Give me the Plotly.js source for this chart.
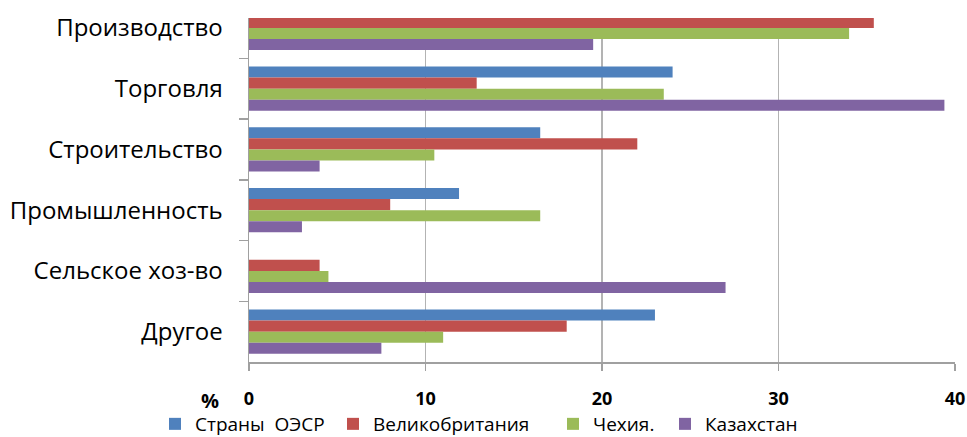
<!DOCTYPE html>
<html>
<head>
<meta charset="utf-8">
<script src="https://cdn.plot.ly/plotly-3.0.1.min.js"></script>
<style>html,body{margin:0;padding:0;background:#fff;}#chart{width:967px;height:437px;}</style>
</head>
<body>
<div id="chart"></div>
<script>
const categories = ["Производство", "Торговля", "Строительство", "Промышленность", "Сельское хоз-во", "Другое"];
const seriesNames = ["Страны  ОЭСР", "Великобритания", "Чехия.", "Казахстан"];
const oecd = [null, 24, 16.5, 11.9, null, 23];
const uk = [35.4, 12.9, 22, 8, 4, 18];
const czech = [34, 23.5, 10.5, 16.5, 4.5, 11];
const kazakhstan = [19.5, 39.4, 4, 3, 27, 7.5];
const xTicks = [0, 10, 20, 30, 40];

const colors = ["#4F81BD", "#C0504D", "#9BBB59", "#8064A2"];
const seriesValues = [oecd, uk, czech, kazakhstan];
const legendIds = ["legend", "legend2", "legend3", "legend4"];
const legendTextStart = [195, 373, 593, 705];

const traces = seriesValues.map((vals, i) => ({
  type: "bar",
  orientation: "h",
  name: seriesNames[i],
  y: categories,
  x: vals,
  marker: {color: colors[i]},
  legend: legendIds[i],
  hoverinfo: "x+name"
}));

const plotL = 249, plotW = 706, plotB = 362, plotH = 344;

const layout = {
  width: 967,
  height: 437,
  margin: {l: 249, r: 12, t: 18, b: 75, autoexpand: false},
  paper_bgcolor: "#ffffff",
  plot_bgcolor: "#ffffff",
  barmode: "group",
  bargap: 0.27,
  bargroupgap: 0,
  font: {family: "Open Sans, sans-serif", color: "#000"},
  xaxis: {
    range: [0, 40],
    tickvals: xTicks,
    ticktext: xTicks.map(String),
    tickfont: {size: 18, family: "Open Sans, sans-serif", weight: "bold", color: "#000"},
    showgrid: true,
    gridcolor: "#b3b3b3",
    gridwidth: 1.5,
    zeroline: false,
    showline: true,
    linecolor: "#a0a0a0",
    linewidth: 1.5,
    ticks: "outside",
    ticklen: 7,
    tickcolor: "#a0a0a0",
    tickwidth: 1.5,
    ticklabelstandoff: 13,
    automargin: false,
    fixedrange: true
  },
  yaxis: {
    type: "category",
    categoryorder: "array",
    categoryarray: categories,
    range: [5.5, -0.163],
    tickfont: {size: 24, family: "Open Sans, sans-serif", color: "#000"},
    showgrid: false,
    zeroline: false,
    showline: true,
    linecolor: "#a0a0a0",
    linewidth: 1.5,
    ticks: "outside",
    tickson: "boundaries",
    ticklen: 9,
    tickcolor: "#a0a0a0",
    tickwidth: 1.5,
    ticklabelstandoff: 20,
    automargin: false,
    fixedrange: true
  },
  showlegend: true,
  annotations: [{
    text: "%",
    xref: "paper", yref: "paper",
    x: (210 - plotL) / plotW,
    y: -(400 - plotB) / plotH,
    xanchor: "center", yanchor: "middle",
    showarrow: false,
    font: {size: 20, family: "Open Sans, sans-serif", weight: "bold", color: "#000"}
  }]
};

legendIds.forEach((id, i) => {
  layout[id] = {
    orientation: "h",
    x: (legendTextStart[i] - 40 - plotL) / plotW,
    xanchor: "left",
    y: -(424 - plotB) / plotH,
    yanchor: "middle",
    font: {size: 19, family: "Open Sans, sans-serif", color: "#000"},
    bgcolor: "rgba(0,0,0,0)"
  };
});

Plotly.newPlot("chart", traces, layout, {displayModeBar: false, staticPlot: true});
</script>
</body>
</html>
